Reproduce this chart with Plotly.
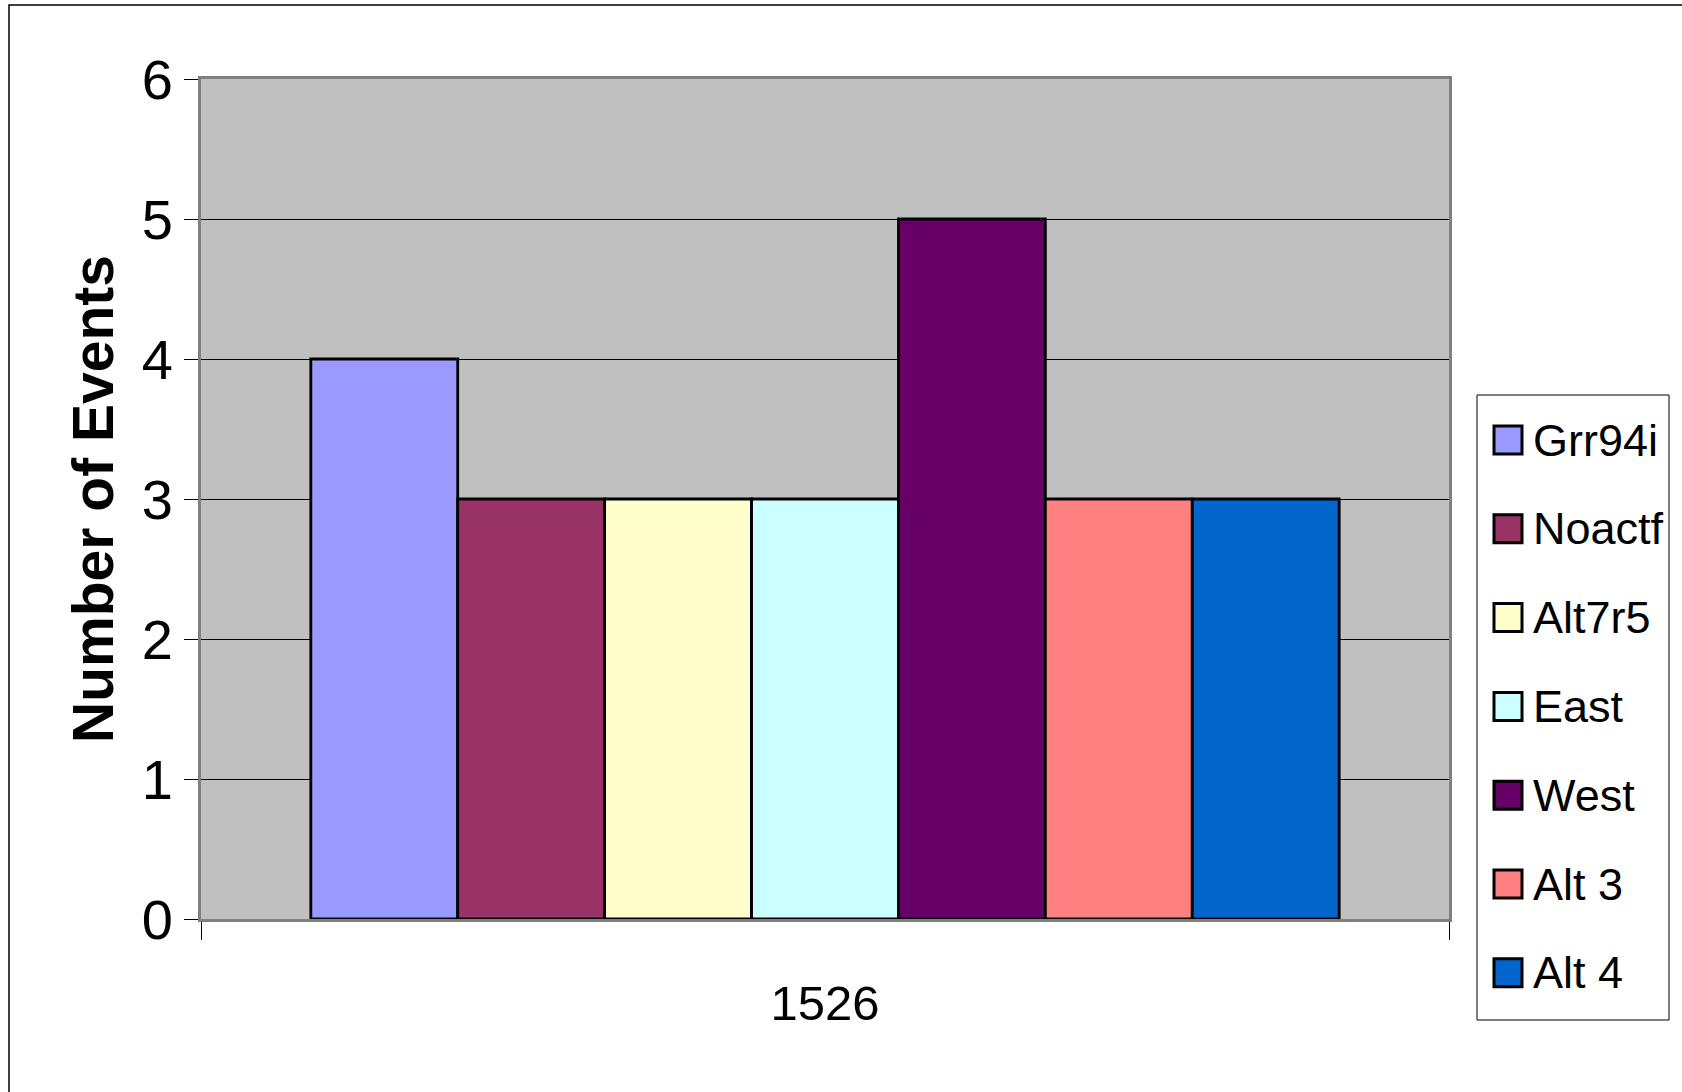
import plotly.graph_objects as go

categories = ["1526"]
series_names = ["Grr94i", "Noactf", "Alt7r5", "East", "West", "Alt 3", "Alt 4"]
series_values = [4, 3, 3, 3, 5, 3, 3]
series_colors = ["#9999FF", "#993366", "#FFFFCC", "#CCFFFF", "#660066", "#FF8080", "#0066CC"]
y_ticks = [0, 1, 2, 3, 4, 5, 6]

W, H = 1682, 1092
L, R, T, B = 201, 1449, 79, 919  # plot area in px

def px_x(p):
    return (p - L) / (R - L)

def px_y(p):
    return (B - p) / (B - T)

fig = go.Figure()
for name, val, col in zip(series_names, series_values, series_colors):
    fig.add_trace(go.Bar(
        x=categories, y=[val], name=name,
        marker=dict(color=col, line=dict(color="black", width=2.8)),
        showlegend=False,
    ))

font_family = "Liberation Sans, Arial, sans-serif"

shapes = []
annotations = []
# outer border
shapes.append(dict(type="rect", xref="paper", yref="paper",
                   x0=px_x(9), x1=px_x(W + 20), y0=px_y(1120), y1=px_y(5),
                   line=dict(color="black", width=1.5), fillcolor="rgba(0,0,0,0)", layer="below"))
# legend box
shapes.append(dict(type="rect", xref="paper", yref="paper",
                   x0=px_x(1477), x1=px_x(1669), y0=px_y(1020), y1=px_y(395),
                   line=dict(color="black", width=1), fillcolor="white"))
y0c = 440
step = 88.8
for i, (name, col) in enumerate(zip(series_names, series_colors)):
    cy = y0c + i * step
    shapes.append(dict(type="rect", xref="paper", yref="paper",
                       x0=px_x(1494), x1=px_x(1522), y0=px_y(cy + 14), y1=px_y(cy - 14),
                       line=dict(color="black", width=3), fillcolor=col))
    annotations.append(dict(xref="paper", yref="paper", x=px_x(1531), y=px_y(cy),
                            xanchor="left", yanchor="middle", text=name, showarrow=False,
                            font=dict(family=font_family, size=45, color="black")))

fig.update_layout(
    width=W, height=H,
    margin=dict(l=L, r=W - R, t=T, b=H - B, pad=0),
    paper_bgcolor="white",
    plot_bgcolor="#C0C0C0",
    barmode="group",
    bargap=0.176,
    bargroupgap=0,
    showlegend=False,
    font=dict(family=font_family, color="black"),
    shapes=shapes,
    annotations=annotations,
    xaxis=dict(
        type="category", categoryorder="array", categoryarray=categories,
        showline=True, linecolor="#808080", linewidth=3, mirror=True,
        ticks="outside", tickson="boundaries", ticklen=18, tickcolor="black", tickwidth=1,
        tickfont=dict(size=49, family=font_family, color="black"),
        ticklabelstandoff=39,
        showgrid=False, zeroline=False,
    ),
    yaxis=dict(
        range=[0, 6], tickvals=y_ticks,
        showline=True, linecolor="#808080", linewidth=3, mirror=True,
        ticks="outside", ticklen=14, tickcolor="black", tickwidth=1,
        tickfont=dict(size=56, family=font_family, color="black"),
        ticklabelstandoff=0,
        showgrid=True, gridcolor="black", gridwidth=1, zeroline=False,
        title=dict(text="<b>Number of Events</b>", standoff=10,
                   font=dict(size=57, family=font_family, color="black")),
    ),
)

fig.write_html("out.html", config={"displayModeBar": False},
               post_script="document.body.style.margin='0';")
